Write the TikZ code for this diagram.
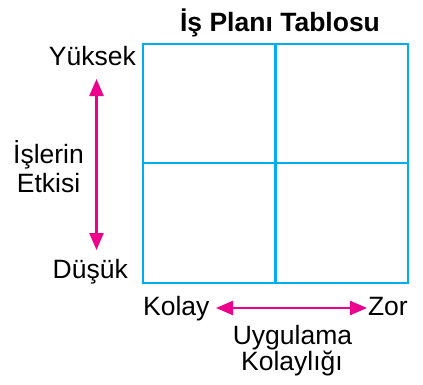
\documentclass[tikz,border=0pt]{standalone}
\usepackage{fontspec}
\setmainfont{Liberation Sans}
\usetikzlibrary{arrows.meta}
\definecolor{gridcyan}{RGB}{0,174,239}
\definecolor{arrmag}{RGB}{236,0,140}
\begin{document}
\begin{tikzpicture}[x=1pt,y=-1pt,
  lbl/.style={inner sep=0pt,font=\fontsize{26.5}{30}\selectfont},
  ttl/.style={inner sep=0pt,font=\fontsize{26.5}{30}\selectfont\bfseries},
  gridline/.style={draw=gridcyan,line width=2.2pt},
  axarrow/.style={draw=arrmag,line width=2.2pt,{Triangle[length=17pt,width=14pt]}-{Triangle[length=17pt,width=14pt]}}]
\useasboundingbox (0,0) rectangle (423,384);
% grid
\coordinate (tl) at (143,44);
\coordinate (br) at (408,283);
\draw[gridline] (tl) rectangle (br);
\coordinate (mt) at (275.5,44);
\coordinate (mb) at (275.5,283);
\coordinate (ml) at (143,163);
\coordinate (mr) at (408,163);
\draw[gridline] (mt) -- (mb);
\draw[gridline] (ml) -- (mr);
% title
\node[ttl,anchor=base] (title) at (280,31) {İş Planı Tablosu};
% vertical axis
\node[lbl,anchor=base east] (yuksek) at (136,65) {Yüksek};
\node[lbl,anchor=base east] (dusuk) at (128,278) {Düşük};
\node[lbl,anchor=base] (isl) at (48.5,163) {İşlerin};
\node[lbl,anchor=base] (etk) at (48.5,192) {Etkisi};
\coordinate (vt) at (96.5,79);
\coordinate (vb) at (96.5,250);
\draw[axarrow] (vb) -- (vt);
% horizontal axis
\node[lbl,anchor=base west] (kolay) at (143,315) {Kolay};
\node[lbl,anchor=base east] (zor) at (408,315) {Zor};
\coordinate (hl) at (216,308);
\coordinate (hr) at (367,308);
\draw[axarrow] (hl) -- (hr);
\node[lbl,anchor=base] (uyg) at (292.5,344) {Uygulama};
\node[lbl,anchor=base] (kol) at (292,370) {Kolaylığı};
\end{tikzpicture}
\end{document}
